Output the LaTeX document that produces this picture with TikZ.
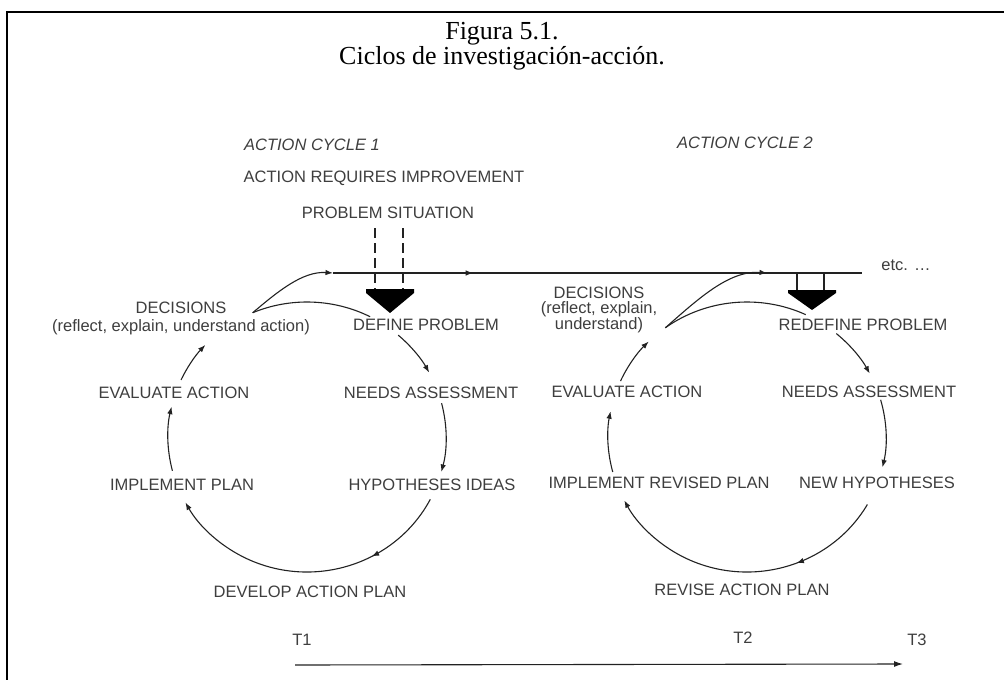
\documentclass[tikz,border=0pt]{standalone}
\usepackage{fontspec}
\setmainfont{Liberation Serif}
\newfontfamily\diagfont{Liberation Sans}
\usetikzlibrary{arrows.meta,calc,decorations.markings}
\definecolor{ink}{HTML}{222222}
\definecolor{txt}{HTML}{3E3E3E}
\begin{document}
\begin{tikzpicture}[x=1pt,y=-1pt,
  lbl/.style={font=\diagfont\fontsize{16.5}{18}\selectfont, text=txt, inner sep=0pt, align=center},
  cyc/.style={lbl, font=\diagfont\itshape\fontsize{16.5}{18}\selectfont},
  tip/.style={-{Latex[length=7.5pt,width=5.5pt]}},
  plain/.style={draw=ink, line width=1.1pt},
  flow/.style={plain, tip},
  midarrow/.style={postaction={decorate}, decoration={markings,
      mark=at position #1 with {\arrow{Latex[length=7.5pt,width=5.5pt]}}}},
  dashline/.style={draw=ink, line width=1.5pt, dash pattern=on 10pt off 5pt},
  bigarrow/.style={fill=black, draw=none},
  frame/.style={draw=black, line width=2.5pt}]
\useasboundingbox (0,0) rectangle (1004,680);

% page frame
\coordinate (fl) at (7,680);
\coordinate (fc) at (7,12);
\coordinate (fr) at (1004,12);
\draw[frame] (fl) -- (fc) -- (fr);

% caption
\node[font=\fontsize{26}{23.5}\selectfont, align=center, inner sep=0pt] (title) at (502,46)
  {Figura 5.1.\\Ciclos de investigación-acción.};

% ---------- headings ----------
\node[cyc] (cyc1) at (312,145) {ACTION CYCLE 1};
\node[cyc] (cyc2) at (745,143) {ACTION CYCLE 2};
\node[lbl] (req) at (384,178) {ACTION REQUIRES IMPROVEMENT};
\node[lbl] (sit) at (388,213) {PROBLEM SITUATION};
\node[lbl] (etc) at (906,265) {etc. \dots};

% ---------- cycle 1 labels ----------
\node[lbl] (dec1) at (181,318) {DECISIONS\\(reflect, explain, understand action)};
\node[lbl] (def1) at (426,325) {DEFINE PROBLEM};
\node[lbl] (needs1) at (431,393) {NEEDS ASSESSMENT};
\node[lbl] (hyp1) at (432,485) {HYPOTHESES IDEAS};
\node[lbl] (dev1) at (310,592) {DEVELOP ACTION PLAN};
\node[lbl] (impl1) at (182,485) {IMPLEMENT PLAN};
\node[lbl] (eval1) at (174,393) {EVALUATE ACTION};

% ---------- cycle 2 labels ----------
\node[lbl, font=\diagfont\fontsize{16.5}{15}\selectfont] (dec2) at (599,310)
  {DECISIONS\\(reflect, explain,\\understand)};
\node[lbl] (def2) at (863,325) {REDEFINE PROBLEM};
\node[lbl] (needs2) at (869,392) {NEEDS ASSESSMENT};
\node[lbl] (hyp2) at (877,483) {NEW HYPOTHESES};
\node[lbl] (dev2) at (742,590) {REVISE ACTION PLAN};
\node[lbl] (impl2) at (659,483) {IMPLEMENT REVISED PLAN};
\node[lbl] (eval2) at (627,392) {EVALUATE ACTION};

% ---------- time axis ----------
\node[lbl] (T1) at (302,640) {T1};
\node[lbl] (T2) at (743,638) {T2};
\node[lbl] (T3) at (917,640) {T3};
\coordinate (ax0) at (295,665);
\coordinate (ax1) at (903,664);
\draw[plain, -{Latex[length=9pt,width=6pt]}] (ax0) -- (ax1);

% ---------- main time line ----------
\coordinate (h0) at (333,273);
\coordinate (h1) at (767,273);
\coordinate (hend) at (862,273);
\draw[plain, midarrow=0.265] (h0) -- (hend);

% ellipse centres of the two cycles
\coordinate (o1) at (307,437);
\coordinate (o2) at (747,437);

% cycle 1 arc end points
\coordinate (d1)  at ($(o1)+(-113:139 and 135)$);
\coordinate (p1a) at ($(o1)+(-49:139 and 135)$);
\coordinate (q1a) at ($(o1)+(-14.5:139 and 135)$);
\coordinate (r1a) at ($(o1)+(27.5:139 and 135)$);
\coordinate (s1a) at ($(o1)+(165.5:139 and 135)$);
\coordinate (u1a) at ($(o1)+(205:139 and 135)$);

% cycle 2 arc end points
\coordinate (d2)  at ($(o2)+(-126:139 and 135)$);
\coordinate (p2a) at ($(o2)+(-50:139 and 135)$);
\coordinate (q2a) at ($(o2)+(-16:139 and 135)$);
\coordinate (r2a) at ($(o2)+(30:139 and 135)$);
\coordinate (s2a) at ($(o2)+(165:139 and 135)$);
\coordinate (u2a) at ($(o2)+(204.5:139 and 135)$);

% cycle 1
\draw[flow] (d1) .. controls ($(d1)+(26,-22)$) and ($(h0)+(-30,-2)$) .. (h0);
\draw[plain] (d1) arc[start angle=-113, end angle=-63, x radius=139, y radius=135];
\draw[flow] (p1a) arc[start angle=-49, end angle=-28.5, x radius=139, y radius=135];
\draw[flow] (q1a) arc[start angle=-14.5, end angle=15, x radius=139, y radius=135];
\draw[flow, midarrow=0.28] (r1a) arc[start angle=27.5, end angle=151, x radius=139, y radius=135];
\draw[flow] (s1a) arc[start angle=165.5, end angle=193, x radius=139, y radius=135];
\draw[flow] (u1a) arc[start angle=205, end angle=223, x radius=139, y radius=135];

% cycle 2
\draw[flow] (d2) .. controls ($(d2)+(32,-28)$) and ($(h1)+(-38,-3)$) .. (h1);
\draw[plain] (d2) arc[start angle=-126, end angle=-65, x radius=139, y radius=135];
\draw[flow] (p2a) arc[start angle=-50, end angle=-28, x radius=139, y radius=135];
\draw[flow] (q2a) arc[start angle=-16, end angle=13, x radius=139, y radius=135];
\draw[flow, midarrow=0.32] (r2a) arc[start angle=30, end angle=152, x radius=139, y radius=135];
\draw[flow] (s2a) arc[start angle=165, end angle=191, x radius=139, y radius=135];
\draw[flow] (u2a) arc[start angle=204.5, end angle=225, x radius=139, y radius=135];

% problem situation feeding cycle 1
\coordinate (ds1) at (375,228);
\coordinate (ds2) at (403,228);
\coordinate (de1) at (375,289);
\coordinate (de2) at (403,289);
\draw[dashline] (ds1) -- (de1);
\draw[dashline] (ds2) -- (de2);
\fill[bigarrow] (366,289) -- (414,289) -- (414,293) -- (390,313) -- (366,293) -- cycle;

% feed into cycle 2
\coordinate (ss1) at (797,273);
\coordinate (ss2) at (824,273);
\coordinate (se1) at (797,290);
\coordinate (se2) at (824,290);
\draw[plain, line width=1.5pt] (ss1) -- (se1);
\draw[plain, line width=1.5pt] (ss2) -- (se2);
\fill[bigarrow] (788,290) -- (836,290) -- (836,293) -- (812,310) -- (788,293) -- cycle;
\end{tikzpicture}
\end{document}
